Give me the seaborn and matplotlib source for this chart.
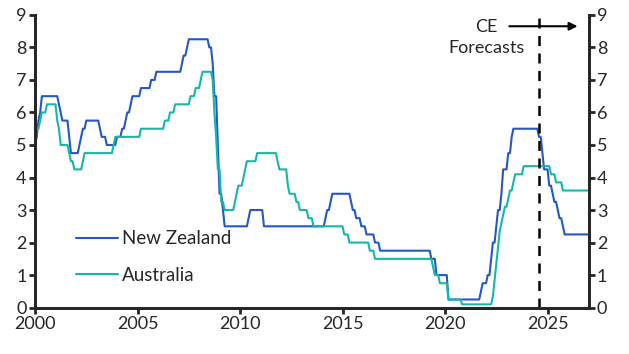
import numpy as np
import pandas as pd
import matplotlib
matplotlib.use('Agg')
import matplotlib.pyplot as plt
import seaborn as sns

# Policy rate change points (month the new rate takes effect)
nz_dates = ['2000-01', '2000-02', '2000-03', '2000-04', '2000-05', '2001-03', '2001-04',
            '2001-05', '2001-09', '2001-10', '2002-03', '2002-04', '2002-05', '2002-07',
            '2003-03', '2003-04', '2003-07', '2004-01', '2004-04', '2004-06', '2004-07',
            '2004-09', '2004-10', '2005-03', '2005-09', '2005-11', '2005-12', '2007-03',
            '2007-04', '2007-06', '2007-07', '2008-07', '2008-09', '2008-10', '2008-12',
            '2009-01', '2009-03', '2009-04', '2010-06', '2010-07', '2011-03', '2014-03',
            '2014-04', '2014-06', '2014-07', '2015-06', '2015-07', '2015-09', '2015-12',
            '2016-03', '2016-08', '2016-11', '2019-05', '2019-08', '2020-03', '2021-10',
            '2021-11', '2022-02', '2022-04', '2022-05', '2022-07', '2022-08', '2022-10',
            '2022-11', '2023-02', '2023-04', '2023-05', '2024-08', '2024-10', '2024-11',
            '2025-02', '2025-04', '2025-05', '2025-07', '2025-08', '2025-10', '2025-11']
nz_rates = [5.0, 5.25, 5.75, 6.0, 6.5, 6.25, 6.0,
            5.75, 5.25, 4.75, 5.0, 5.25, 5.5, 5.75,
            5.5, 5.25, 5.0, 5.25, 5.5, 5.75, 6.0,
            6.25, 6.5, 6.75, 7.0, 7.0, 7.25, 7.5,
            7.75, 8.0, 8.25, 8.0, 7.5, 6.5, 5.0,
            3.5, 3.0, 2.5, 2.75, 3.0, 2.5, 2.75,
            3.0, 3.25, 3.5, 3.25, 3.0, 2.75, 2.5,
            2.25, 2.0, 1.75, 1.5, 1.0, 0.25, 0.5,
            0.75, 1.0, 1.5, 2.0, 2.5, 3.0, 3.5,
            4.25, 4.75, 5.25, 5.5, 5.25, 4.75, 4.25,
            3.75, 3.5, 3.25, 3.0, 2.75, 2.5, 2.25]

au_dates = ['2000-01', '2000-02', '2000-04', '2000-05', '2000-08', '2001-02', '2001-03',
            '2001-04', '2001-09', '2001-10', '2001-12', '2002-05', '2002-06', '2003-11',
            '2003-12', '2005-03', '2006-05', '2006-08', '2006-11', '2007-08', '2007-11',
            '2008-02', '2008-03', '2008-09', '2008-10', '2008-11', '2008-12', '2009-02',
            '2009-04', '2009-10', '2009-11', '2009-12', '2010-03', '2010-04', '2010-05',
            '2010-11', '2011-11', '2011-12', '2012-05', '2012-06', '2012-10', '2012-12',
            '2013-05', '2013-08', '2015-02', '2015-05', '2016-05', '2016-08', '2019-06',
            '2019-07', '2019-10', '2020-03', '2020-11', '2022-05', '2022-06', '2022-07',
            '2022-08', '2022-09', '2022-10', '2022-11', '2022-12', '2023-02', '2023-03',
            '2023-05', '2023-06', '2023-11', '2025-03', '2025-06', '2025-10']
au_rates = [5.0, 5.5, 5.75, 6.0, 6.25, 5.75, 5.5,
            5.0, 4.75, 4.5, 4.25, 4.5, 4.75, 5.0,
            5.25, 5.5, 5.75, 6.0, 6.25, 6.5, 6.75,
            7.0, 7.25, 7.0, 6.0, 5.25, 4.25, 3.25,
            3.0, 3.25, 3.5, 3.75, 4.0, 4.25, 4.5,
            4.75, 4.5, 4.25, 3.75, 3.5, 3.25, 3.0,
            2.75, 2.5, 2.25, 2.0, 1.75, 1.5, 1.25,
            1.0, 0.75, 0.25, 0.1, 0.35, 0.85, 1.35,
            1.85, 2.35, 2.6, 2.85, 3.1, 3.35, 3.6,
            3.85, 4.1, 4.35, 4.1, 3.85, 3.6]

forecast_start = 2024.6
x_ticks = [2000, 2005, 2010, 2015, 2020, 2025]
y_ticks = list(range(10))

NZ_COLOR = '#2358c8'
AU_COLOR = '#14b8a8'


def monthly(dates, rates):
    s = pd.Series(rates, index=pd.to_datetime(dates))
    idx = pd.date_range('2000-01-01', '2027-01-01', freq='MS')
    s = s.reindex(idx).ffill()
    years = idx.year + (idx.month - 1) / 12
    return pd.DataFrame({'year': years, 'rate': s.values})


nz = monthly(nz_dates, nz_rates)
nz['country'] = 'New Zealand'
au = monthly(au_dates, au_rates)
au['country'] = 'Australia'
df = pd.concat([nz, au], ignore_index=True)

sns.set_style('ticks')
plt.rcParams['font.family'] = ['Lato', 'DejaVu Sans']

fig = plt.figure(figsize=(6.29, 3.54), dpi=100)
ax = fig.add_axes([0.0557, 0.131, 0.880, 0.827])

sns.lineplot(data=df, x='year', y='rate', hue='country',
             palette={'New Zealand': NZ_COLOR, 'Australia': AU_COLOR},
             linewidth=1.5, ax=ax)

ax.axvline(forecast_start, color='black', linestyle=(0, (4, 3)), linewidth=1.8)
ax.annotate('', xy=(2026.6, 8.65), xytext=(2023.0, 8.65),
            arrowprops=dict(arrowstyle='-|>', color='black', lw=1.5,
                            mutation_scale=12))
ax.text(2022.0, 8.3, 'CE\nForecasts', ha='center', va='center', fontsize=13,
        linespacing=1.4)

ax.set_xlim(2000, 2027)
ax.set_ylim(0, 9)
ax.set_xticks(x_ticks)
ax.set_yticks(y_ticks)
ax.set_xlabel('')
ax.set_ylabel('')

ax2 = ax.twinx()
ax2.set_ylim(0, 9)
ax2.set_yticks(y_ticks)

for a in (ax, ax2):
    a.spines['top'].set_visible(False)
    for side in ('left', 'right', 'bottom'):
        a.spines[side].set_linewidth(2)
    a.tick_params(direction='out', length=4, width=2, labelsize=13, pad=2)
ax.spines['right'].set_visible(True)

leg = ax.legend(loc='upper left', bbox_to_anchor=(0.061, 0.29), frameon=False,
                fontsize=13.5, handlelength=2.2, handletextpad=0.25, labelspacing=1.05,
                borderaxespad=0)
for line in leg.get_lines():
    line.set_linewidth(1.5)

fig.savefig('out.png', dpi=100)
